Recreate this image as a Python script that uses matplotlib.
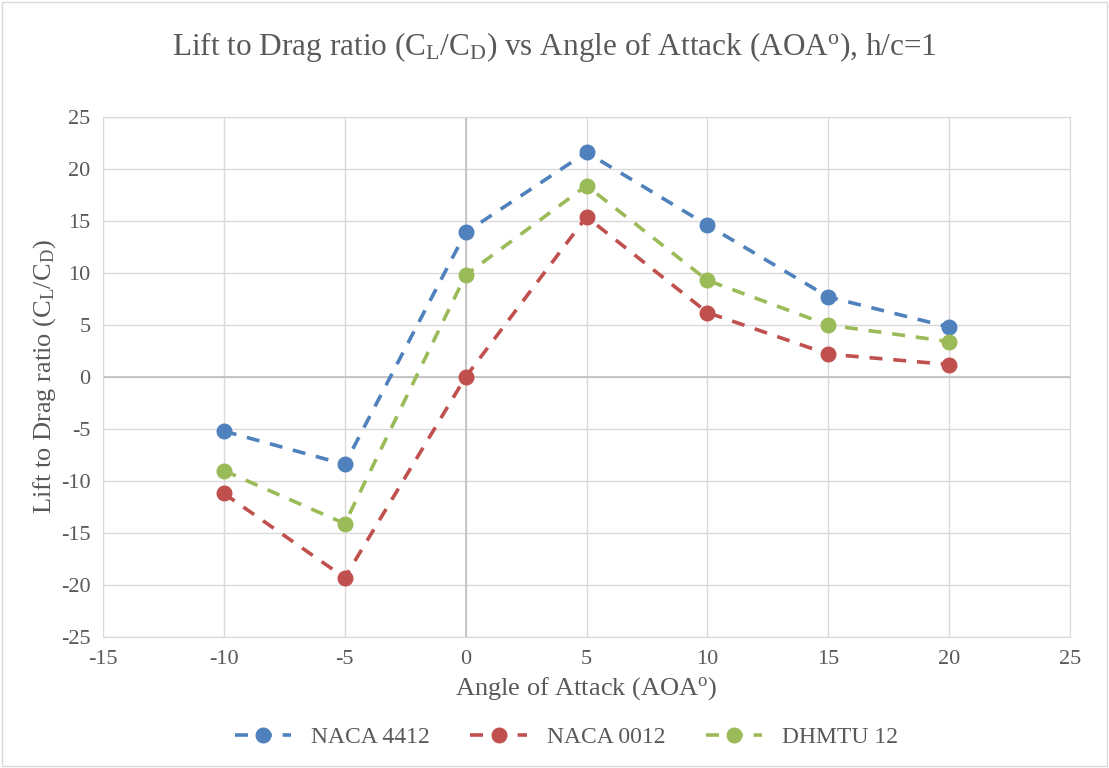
import matplotlib
matplotlib.use("Agg")
import matplotlib.pyplot as plt
from matplotlib.patches import Rectangle

plt.rcParams['font.family'] = ['Liberation Serif', 'DejaVu Serif']
plt.rcParams['mathtext.fontset'] = 'custom'
plt.rcParams['mathtext.rm'] = 'Liberation Serif'
plt.rcParams['mathtext.it'] = 'Liberation Serif'
plt.rcParams['axes.unicode_minus'] = False

aoa = [-10, -5, 0, 5, 10, 15, 20]
naca4412 = [-5.2, -8.4, 13.9, 21.6, 14.6, 7.7, 4.8]
naca0012 = [-11.2, -19.3, 0.0, 15.4, 6.2, 2.2, 1.2]
dhmtu12 = [-9.0, -14.1, 9.8, 18.4, 9.3, 5.0, 3.4]

series = [("NACA 4412", naca4412, "#4F81BD"),
          ("NACA 0012", naca0012, "#C0504D"),
          ("DHMTU 12", dhmtu12, "#9BBB59")]

fig = plt.figure(figsize=(11.09, 7.68), dpi=100)
ax = fig.add_axes([103/1109, 1-637/768, (1070-103)/1109, (637-117)/768])

for name, vals, col in series:
    ax.plot(aoa, vals, linestyle=(0, (3.6, 3.0)), linewidth=2.6, color=col,
            marker='o', markersize=10.5, label=name, zorder=3)

ax.set_xlim(-15, 25)
ax.set_ylim(-25, 25)
ax.set_xticks(range(-15, 26, 5))
ax.set_yticks(range(-25, 26, 5))
ax.grid(True, color='#D9D9D9', linewidth=1)
ax.axvline(0, color='#BFBFBF', linewidth=1.2, zorder=1)
ax.axhline(0, color='#BFBFBF', linewidth=1.2, zorder=1)
for s in ax.spines.values():
    s.set_color('#D9D9D9')
ax.tick_params(length=0, labelsize=16, colors='#595959', pad=9)
ax.set_axisbelow(True)

ax.set_xlabel(r'Angle of Attack (AOA$^\mathregular{o}$)', fontsize=19, color='#595959', labelpad=5)
ax.set_ylabel(r'Lift to Drag ratio (C$_\mathregular{L}$/C$_\mathregular{D}$)', fontsize=19, color='#595959', labelpad=2)
fig.suptitle(r'Lift to Drag ratio (C$_\mathregular{L}$/C$_\mathregular{D}$) vs Angle of Attack (AOA$^\mathregular{o}$), h/c=1',
             fontsize=22.5, color='#595959', y=1-47/768, va='center')

leg = fig.legend(loc='center', bbox_to_anchor=(0.5 + 12/1109, 1-737/768), ncol=3, frameon=False,
                 fontsize=17, handlelength=2.4, handletextpad=0.85, columnspacing=1.7,
                 labelcolor='#595959')

fig.patches.append(Rectangle((0.002, 0.002), 0.996, 0.996, transform=fig.transFigure,
                             fill=False, edgecolor='#D9D9D9', linewidth=1))

fig.savefig("out.png", dpi=100)
